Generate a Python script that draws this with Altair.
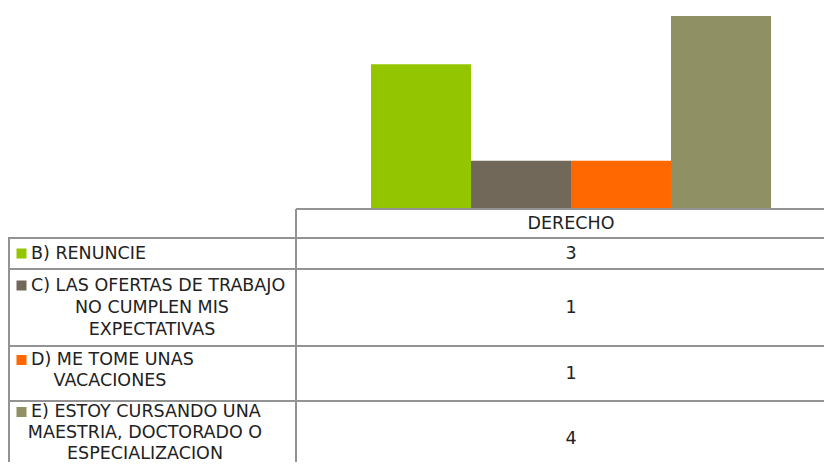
import altair as alt
import pandas as pd

# ---------------- data ----------------
series_name = "DERECHO"
categories = [
    "B) RENUNCIE",
    "C) LAS OFERTAS DE TRABAJO NO CUMPLEN MIS EXPECTATIVAS",
    "D) ME TOME UNAS VACACIONES",
    "E) ESTOY CURSANDO UNA MAESTRIA, DOCTORADO O ESPECIALIZACION",
]
label_lines = [
    ["B) RENUNCIE"],
    ["C) LAS OFERTAS DE TRABAJO", "NO CUMPLEN MIS", "EXPECTATIVAS"],
    ["D) ME TOME UNAS", "VACACIONES"],
    ["\u00a0E) ESTOY CURSANDO UNA", "MAESTRIA, DOCTORADO O", "ESPECIALIZACION"],
]
values = [3, 1, 1, 4]
colors = ["#94C600", "#71685A", "#FF6700", "#8F9164"]

# ---------------- layout (pixels inside the chart) ----------------
W, H = 816, 454
LEFT_COL = 288          # border between label column and value column
RIGHT_CENTER = 563      # centre of the value column
TABLE_TOP = 201         # top of the table = baseline of the bars
HEADER_H = 29
ROW_H = [31, 77, 55, 76]
LINE_H = [22, 22, 21, 21]
LABEL_SHIFT = [0, 0, -3, -6]
SQUARE_X = 13.5
FIRST_X = 23
CONT_X = [144, 144, 102, 137]
FONT = "DejaVu Sans"
FS = 17.5
TXT = "#222222"
GRID = "#939393"

# row geometry
row_tops = []
t = TABLE_TOP + HEADER_H
for h in ROW_H:
    row_tops.append(t)
    t += h
row_centers = [rt + h / 2 for rt, h in zip(row_tops, ROW_H)]

xid = alt.Scale(domain=[0, W], range=[0, W], zero=False, nice=False)
yid = alt.Scale(domain=[0, H], range=[0, H], zero=False, nice=False)

# ---------------- bars ----------------
bars_df = pd.DataFrame({"category": categories, "value": values})
bars = alt.Chart(bars_df).mark_bar(opacity=1).encode(
    x=alt.X("category:N", sort=categories, axis=None,
            scale=alt.Scale(range=[363, 763], paddingInner=0, paddingOuter=0)),
    y=alt.Y("value:Q", axis=None,
            scale=alt.Scale(domain=[0, 4], range=[TABLE_TOP, 8], nice=False)),
    color=alt.Color("category:N", legend=None,
                    scale=alt.Scale(domain=categories, range=colors)),
)

# ---------------- table grid ----------------
lines = [
    (LEFT_COL, W, TABLE_TOP, TABLE_TOP),
    (0, W, TABLE_TOP + HEADER_H, TABLE_TOP + HEADER_H),
]
for rt in row_tops[1:]:
    lines.append((0, W, rt, rt))
lines.append((1, 1, TABLE_TOP + HEADER_H, H))
lines.append((LEFT_COL, LEFT_COL, TABLE_TOP, H))
lines_df = pd.DataFrame(lines, columns=["x", "x2", "y", "y2"])
grid = alt.Chart(lines_df).mark_rule(color=GRID, strokeWidth=2).encode(
    x=alt.X("x:Q", scale=xid, axis=None), x2="x2:Q",
    y=alt.Y("y:Q", scale=yid, axis=None), y2="y2:Q",
)

# ---------------- texts ----------------
ctext = [(RIGHT_CENTER, TABLE_TOP + HEADER_H / 2, series_name)]
for v, c in zip(values, row_centers):
    ctext.append((RIGHT_CENTER, c, str(v)))
ltext = []
squares = []
for i, lines_i in enumerate(label_lines):
    n = len(lines_i)
    y0 = row_centers[i] + LABEL_SHIFT[i] - (n - 1) * LINE_H[i] / 2
    ltext.append((FIRST_X, y0, lines_i[0]))
    squares.append((SQUARE_X, y0, categories[i]))
    for k in range(1, n):
        ctext.append((CONT_X[i], y0 + k * LINE_H[i], lines_i[k]))

ctext_df = pd.DataFrame(ctext, columns=["x", "y", "t"])
ltext_df = pd.DataFrame(ltext, columns=["x", "y", "t"])
sq_df = pd.DataFrame(squares, columns=["x", "y", "category"])

center_text = alt.Chart(ctext_df).mark_text(
    align="center", baseline="middle", font=FONT, fontSize=FS, color=TXT
).encode(
    x=alt.X("x:Q", scale=xid, axis=None),
    y=alt.Y("y:Q", scale=yid, axis=None),
    text="t:N",
)
left_text = alt.Chart(ltext_df).mark_text(
    align="left", baseline="middle", font=FONT, fontSize=FS, color=TXT
).encode(
    x=alt.X("x:Q", scale=xid, axis=None),
    y=alt.Y("y:Q", scale=yid, axis=None),
    text="t:N",
)
keys = alt.Chart(sq_df).mark_square(size=100, opacity=1, filled=True).encode(
    x=alt.X("x:Q", scale=xid, axis=None),
    y=alt.Y("y:Q", scale=yid, axis=None),
    color=alt.Color("category:N", legend=None,
                    scale=alt.Scale(domain=categories, range=colors)),
)

chart = (
    alt.layer(bars, grid, center_text, left_text, keys)
    .resolve_scale(x="independent", y="independent")
    .properties(width=W, height=H, padding=0,
                autosize=alt.AutoSizeParams(type="none"),
                background="white")
    .configure_view(stroke=None)
)

chart.save("out.html", embed_options={"renderer": "svg", "actions": False})
